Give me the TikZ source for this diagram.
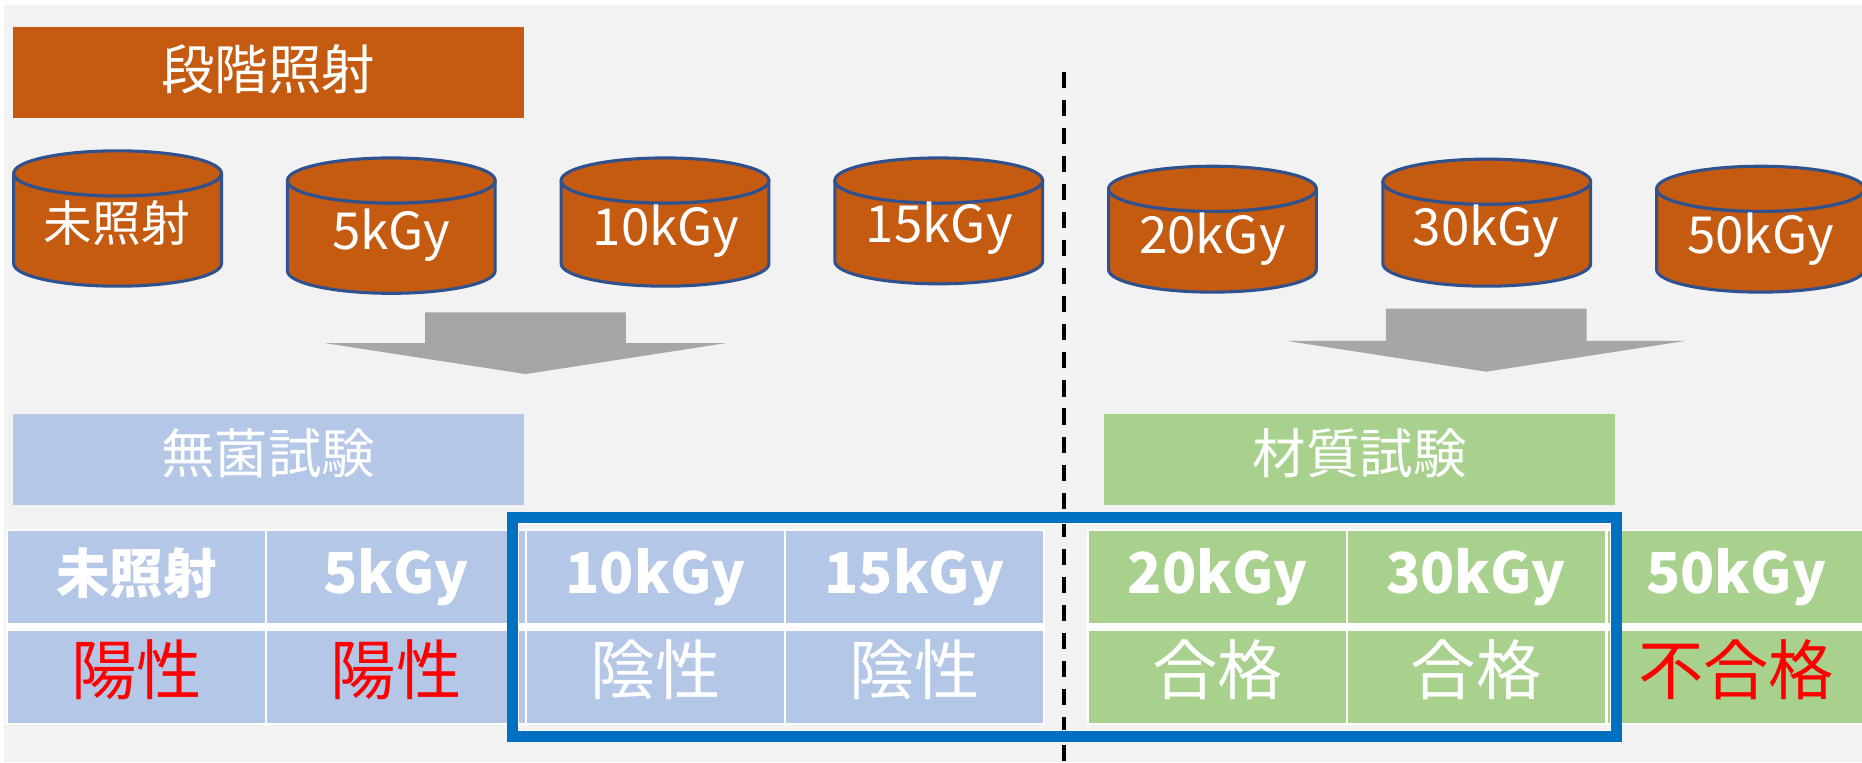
\documentclass[tikz,border=0pt]{standalone}
\usepackage{fontspec}
\setmainfont{Noto Sans CJK JP}
\definecolor{bggray}{HTML}{F2F2F2}
\definecolor{rust}{HTML}{C55A11}
\definecolor{drumline}{HTML}{2F528F}
\definecolor{paleblue}{HTML}{B4C7E7}
\definecolor{palegreen}{HTML}{A9D18E}
\definecolor{framblue}{HTML}{0070C0}
\definecolor{arrowgray}{HTML}{A6A6A6}
\newlength{\ux}\setlength{\ux}{0.59375pt}
\newcommand{\fsz}[1]{\fontsize{#1\ux}{#1\ux}\selectfont}
\tikzset{
  x=\ux, y=-\ux,
  band/.style={inner sep=0pt, outer sep=0pt, anchor=center, text=white, font=\fsz{45},
    text height=37.1\ux, text depth=7.9\ux, align=center, minimum width=430\ux, minimum height=76\ux},
  bandlow/.style={band, text height=34.6\ux, text depth=10.4\ux},
  cellbase/.style={inner sep=0pt, outer sep=0pt, anchor=center, text=white, align=center,
    minimum width=216.5\ux, minimum height=77\ux},
  headcell/.style={cellbase, font=\fsz{45}\bfseries, text height=36.6\ux, text depth=8.4\ux},
  headlatin/.style={headcell, font=\fsz{47.5}\bfseries},
  resultcell/.style={cellbase, font=\fsz{55}, text height=42.4\ux, text depth=12.6\ux},
  bluecell/.style={fill=paleblue},
  greencell/.style={fill=palegreen},
  bad/.style={text=red},
  drumlabel/.style={inner sep=0pt, text=white, text height=36\ux, text depth=5\ux},
  drumcjk/.style={drumlabel, font=\fsz{41}},
  drumlatin/.style={drumlabel, font=\fsz{43}},
  drumbody/.style={fill=rust, draw=drumline, line width=2.6\ux, line join=round},
  blockarrow/.style={fill=arrowgray, draw=none},
}
% #1 name, #2 left, #3 right, #4 top, #5 bottom, #6 label x, #7 label y, #8 label style, #9 text
\newcommand{\drum}[9]{%
  \pgfmathsetmacro{\mx}{(#2+#3)/2}
  \pgfmathsetmacro{\rxx}{(#3-#2)/2}
  \path[drumbody] (#2,#4+19) arc[start angle=180,end angle=360,x radius=\rxx\ux,y radius=19\ux]
     -- (#3,#5-19) arc[start angle=0,end angle=-180,x radius=\rxx\ux,y radius=19\ux] -- cycle;
  \path[drumbody] (\mx,#4+19) ellipse[x radius=\rxx\ux,y radius=19\ux];
  \node[#8] (#1) at (#6,#7) {#9};
}
\begin{document}
\begin{tikzpicture}
\useasboundingbox (0,0) rectangle (1568,642);
\fill[bggray] (3.5,4) rectangle (1568,642);

\node[band, fill=rust] (title) at (226,61) {段階照射};

\drum{d1}{11.5}{186.5}{127}{241}{98.5}{188}{drumcjk}{未照射}
\drum{d2}{242}{417}{133}{247}{329.5}{195}{drumlatin}{5kGy}
\drum{d3}{472.5}{647.5}{133}{241}{561}{191}{drumlatin}{10kGy}
\drum{d4}{703}{878}{133}{239}{791}{189}{drumlatin}{15kGy}
\drum{d5}{933.5}{1108.5}{140}{246}{1021}{198}{drumlatin}{20kGy}
\drum{d6}{1164.5}{1339.5}{134}{241}{1251.5}{191}{drumlatin}{30kGy}
\drum{d7}{1395}{1570}{140}{246}{1482.5}{198}{drumlatin}{50kGy}

\fill[blockarrow] (358,263) -- (527,263) -- (527,289) -- (611,289) -- (442.5,315) -- (274,289) -- (358,289) -- cycle;
\fill[blockarrow] (1167,260) -- (1336,260) -- (1336,287) -- (1420,287) -- (1251.5,313) -- (1083,287) -- (1167,287) -- cycle;

\node[bandlow, fill=paleblue] (sterile) at (226,387) {無菌試験};
\node[bandlow, fill=palegreen] (material) at (1145,387) {材質試験};

% white table backing
\fill[white] (5,445.5) rectangle (880,610.5);
\fill[white] (915,445.5) rectangle (1568,610.5);

\node[headcell, bluecell] (h1) at (115,486) {未照射};
\node[headlatin, bluecell] (h2) at (333.5,486) {5kGy};
\node[headlatin, bluecell] (h3) at (552,486) {10kGy};
\node[headlatin, bluecell] (h4) at (770,486) {15kGy};
\node[headlatin, greencell] (h5) at (1025.5,486) {20kGy};
\node[headlatin, greencell] (h6) at (1243,486) {30kGy};
\node[headlatin, greencell] (h7) at (1462,486) {50kGy};

\node[resultcell, bluecell, bad] (r1) at (115,570) {陽性};
\node[resultcell, bluecell, bad] (r2) at (333.5,570) {陽性};
\node[resultcell, bluecell] (r3) at (552,570) {陰性};
\node[resultcell, bluecell] (r4) at (770,570) {陰性};
\node[resultcell, greencell] (r5) at (1025.5,570) {合格};
\node[resultcell, greencell] (r6) at (1243,570) {合格};
\node[resultcell, greencell, bad] (r7) at (1462,570) {不合格};

% divider, under the frame
\coordinate (divtop) at (895.8,60.8);
\coordinate (divbot) at (895.8,642);
\draw[black, line width=3.4\ux, dash pattern=on 13.5\ux off 10.1\ux] (divtop) -- (divbot);

% highlight frame
\draw[framblue, line width=9.5\ux, miter limit=10] (431.7,435.5) rectangle (1361.3,620.3);
\draw[white, line width=0.5\ux] (436.7,440.5) rectangle (1356.3,615.3);
\end{tikzpicture}
\end{document}
